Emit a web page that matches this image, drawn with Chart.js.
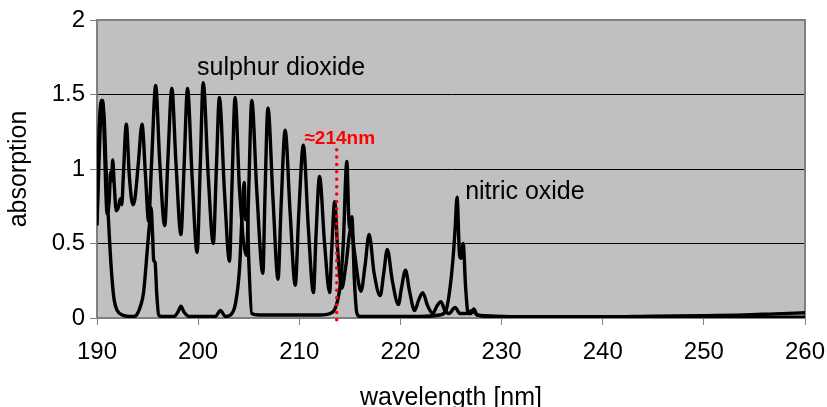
<!DOCTYPE html>
<html>
<head>
<meta charset="utf-8">
<script src="https://cdn.jsdelivr.net/npm/chart.js@4.4.1/dist/chart.umd.min.js"></script>
<style>
html, body { margin: 0; padding: 0; background: #fff; }
#wrap { width: 827px; height: 407px; }
</style>
</head>
<body>
<div id="wrap"><canvas id="chart" width="827" height="407"></canvas></div>
<script>
// absorption spectra, values
const so2Wavelength = [
    190.0, 190.2, 190.4, 190.55, 190.7, 190.85, 191.0, 191.2, 191.35, 191.45,
    191.55, 191.7, 191.9, 192.1, 192.3, 192.45, 192.6, 192.9, 193.2, 193.55,
    193.75, 194.1, 194.45, 194.8, 195.1, 195.4, 195.8, 196.2, 196.7, 197.0,
    197.4, 197.8, 198.3, 198.6, 198.95, 199.4, 199.9, 200.2, 200.5, 201.0,
    201.5, 201.8, 202.1, 202.6, 203.1, 203.35, 203.65, 204.1, 204.8, 205.0,
    205.3, 205.8, 206.4, 206.6, 206.9, 207.4, 207.9, 208.2, 208.6, 209.1,
    209.6, 209.95, 210.4, 210.9, 211.4, 211.65, 212.0, 212.5, 213.0, 213.2,
    213.5, 213.8, 214.2, 214.6, 215.1, 215.5, 215.9, 216.1, 216.5, 216.9,
    217.4, 218.0, 218.35, 218.7, 219.2, 219.8, 220.1, 220.5, 220.9, 221.4,
    221.8, 222.2, 222.7, 223.2, 223.6, 224.0, 224.4, 224.8, 225.4, 225.9,
    226.5, 227.1, 227.6, 228.5, 230.0, 235.0, 240.0, 245.0, 250.0, 254.0,
    257.0, 260.0
];
const so2Absorption = [
    0.62, 1.05, 1.40, 1.46, 1.25, 0.90, 0.70, 0.78, 0.98, 0.92,
    1.06, 0.90, 0.72, 0.74, 0.80, 0.76, 0.95, 1.30, 0.95, 0.76,
    0.80, 1.05, 1.30, 0.95, 0.65, 1.05, 1.56, 1.05, 0.62, 1.05,
    1.54, 1.05, 0.56, 1.00, 1.54, 0.95, 0.44, 1.00, 1.58, 0.95,
    0.50, 1.00, 1.48, 0.85, 0.38, 0.90, 1.48, 0.85, 0.42, 0.85,
    1.46, 0.85, 0.30, 0.80, 1.41, 0.80, 0.26, 0.75, 1.26, 0.70,
    0.22, 0.70, 1.16, 0.60, 0.17, 0.55, 0.95, 0.50, 0.17, 0.45,
    0.78, 0.45, 0.20, 0.35, 0.60, 0.42, 0.22, 0.18, 0.35, 0.56,
    0.30, 0.15, 0.30, 0.46, 0.25, 0.09, 0.20, 0.32, 0.18, 0.05,
    0.12, 0.17, 0.08, 0.03, 0.08, 0.11, 0.05, 0.03, 0.07, 0.03,
    0.03, 0.05, 0.02, 0.015, 0.01, 0.008, 0.008, 0.012, 0.015, 0.02,
    0.028, 0.035
];

const noWavelength = [
    190.0, 190.2, 190.45, 190.7, 190.9, 191.1, 191.3, 191.5, 191.7, 192.0,
    192.5, 193.5, 193.9, 194.3, 194.6, 195.0, 195.2, 195.35, 195.5, 195.6,
    195.75, 195.9, 196.1, 196.5, 197.6, 198.0, 198.3, 198.6, 199.1, 201.7,
    202.2, 202.7, 203.2, 203.7, 204.1, 204.35, 204.55, 204.7, 204.85, 205.0,
    205.3, 206.0, 208.0, 210.0, 212.0, 213.3, 213.8, 214.1, 214.35, 214.7,
    214.9, 215.05, 215.2, 215.45, 215.7, 216.0, 218.0, 220.0, 222.0, 223.9,
    224.5, 224.9, 225.2, 225.4, 225.6, 225.85, 226.0, 226.2, 226.45, 226.7,
    227.0, 227.25, 227.6, 229.0, 235.0, 245.0, 255.0, 260.0
];
const noAbsorption = [
    0.65, 1.25, 1.46, 1.35, 1.00, 0.70, 0.45, 0.25, 0.12, 0.05,
    0.02, 0.01, 0.02, 0.08, 0.17, 0.48, 0.64, 0.74, 0.55, 0.39,
    0.37, 0.17, 0.02, 0.01, 0.01, 0.04, 0.08, 0.04, 0.01, 0.01,
    0.05, 0.01, 0.02, 0.10, 0.34, 0.70, 0.91, 0.66, 0.72, 0.40,
    0.03, 0.02, 0.02, 0.02, 0.02, 0.04, 0.12, 0.25, 0.50, 1.05,
    0.66, 0.60, 0.68, 0.25, 0.03, 0.01, 0.01, 0.01, 0.01, 0.02,
    0.05, 0.20, 0.40, 0.59, 0.81, 0.42, 0.40, 0.50, 0.20, 0.03,
    0.03, 0.06, 0.02, 0.01, 0.005, 0.005, 0.005, 0.005
];

const markerWavelength = [213.7, 213.7];
const markerAbsorption = [1.13, -0.02];

const xTicks = [190, 200, 210, 220, 230, 240, 250, 260];
const yTicks = [0, 0.5, 1, 1.5, 2];

const FONT = "'Liberation Sans', Arial, sans-serif";

function toPoints(xs, ys) {
    return xs.map((x, i) => ({ x: x, y: ys[i] }));
}

// grey plot area and its frame
const plotArea = {
    id: 'plotArea',
    beforeDraw: function (chart) {
        const { ctx, chartArea: a } = chart;
        ctx.save();
        ctx.fillStyle = '#c0c0c0';
        ctx.fillRect(a.left, a.top, a.right - a.left, a.bottom - a.top);
        ctx.restore();
    },
    beforeDatasetsDraw: function (chart) {
        const { ctx, chartArea: a } = chart;
        ctx.save();
        ctx.strokeStyle = '#808080';
        ctx.lineWidth = 2;
        ctx.beginPath();
        ctx.moveTo(a.left, a.top);
        ctx.lineTo(a.right, a.top);
        ctx.lineTo(a.right, a.bottom);
        ctx.stroke();
        ctx.restore();
    }
};

// in-plot labels
const labels = {
    id: 'labels',
    afterDatasetsDraw: function (chart) {
        const { ctx, scales: { x, y } } = chart;
        ctx.save();
        ctx.textBaseline = 'middle';
        ctx.fillStyle = '#000';
        ctx.font = '25px ' + FONT;
        ctx.textAlign = 'center';
        ctx.fillText('sulphur dioxide', x.getPixelForValue(208.2), y.getPixelForValue(1.68));
        ctx.textAlign = 'left';
        ctx.fillText('nitric oxide', x.getPixelForValue(226.4), y.getPixelForValue(0.845));
        ctx.fillStyle = '#ff0000';
        ctx.font = 'bold 19px ' + FONT;
        ctx.textAlign = 'center';
        ctx.fillText('\u2248214nm', x.getPixelForValue(214.0), y.getPixelForValue(1.2));
        ctx.restore();
    }
};

new Chart(document.getElementById('chart'), {
    type: 'line',
    data: {
        datasets: [
            {
                label: 'marker',
                data: toPoints(markerWavelength, markerAbsorption),
                borderColor: '#ff0000',
                borderWidth: 3.5,
                borderDash: [0, 7.4],
                borderCapStyle: 'round',
                pointRadius: 0,
                clip: false
            },
            {
                label: 'sulphur dioxide',
                data: toPoints(so2Wavelength, so2Absorption),
                borderColor: '#000',
                borderWidth: 3.4,
                pointRadius: 0,
                cubicInterpolationMode: 'monotone'
            },
            {
                label: 'nitric oxide',
                data: toPoints(noWavelength, noAbsorption),
                borderColor: '#000',
                borderWidth: 3.4,
                pointRadius: 0,
                cubicInterpolationMode: 'monotone'
            }
        ]
    },
    options: {
        responsive: false,
        animation: false,
        layout: { padding: { left: 0, right: 22, top: 20, bottom: 0 } },
        plugins: {
            legend: { display: false },
            tooltip: { enabled: false }
        },
        scales: {
            x: {
                type: 'linear',
                min: 190,
                max: 260,
                afterBuildTicks: s => { s.ticks = xTicks.map(v => ({ value: v })); },
                afterFit: s => { s.height = 89; s.paddingLeft = 0; s.paddingRight = 0; },
                ticks: { color: '#000', font: { family: FONT, size: 24 }, padding: 13, autoSkip: false, maxRotation: 0 },
                grid: { drawOnChartArea: false, tickLength: 7, tickColor: '#808080' },
                border: { color: '#808080', width: 2 },
                title: {
                    display: true,
                    text: 'wavelength [nm]',
                    color: '#000',
                    font: { family: FONT, size: 25, lineHeight: 1 },
                    padding: { top: 0, bottom: -4 }
                }
            },
            y: {
                min: 0,
                max: 2,
                afterBuildTicks: s => { s.ticks = yTicks.map(v => ({ value: v })); },
                afterFit: s => { s.width = 97; },
                ticks: {
                    color: '#000',
                    font: { family: FONT, size: 24 },
                    padding: 5,
                    callback: v => String(v)
                },
                grid: { color: '#000', lineWidth: 1, tickLength: 7, tickColor: '#808080' },
                border: { color: '#808080', width: 2 },
                title: {
                    display: true,
                    text: 'absorption',
                    color: '#000',
                    font: { family: FONT, size: 25, lineHeight: 1 },
                    padding: { top: 7, bottom: 0 }
                }
            }
        }
    },
    plugins: [plotArea, labels]
});
</script>
</body>
</html>
